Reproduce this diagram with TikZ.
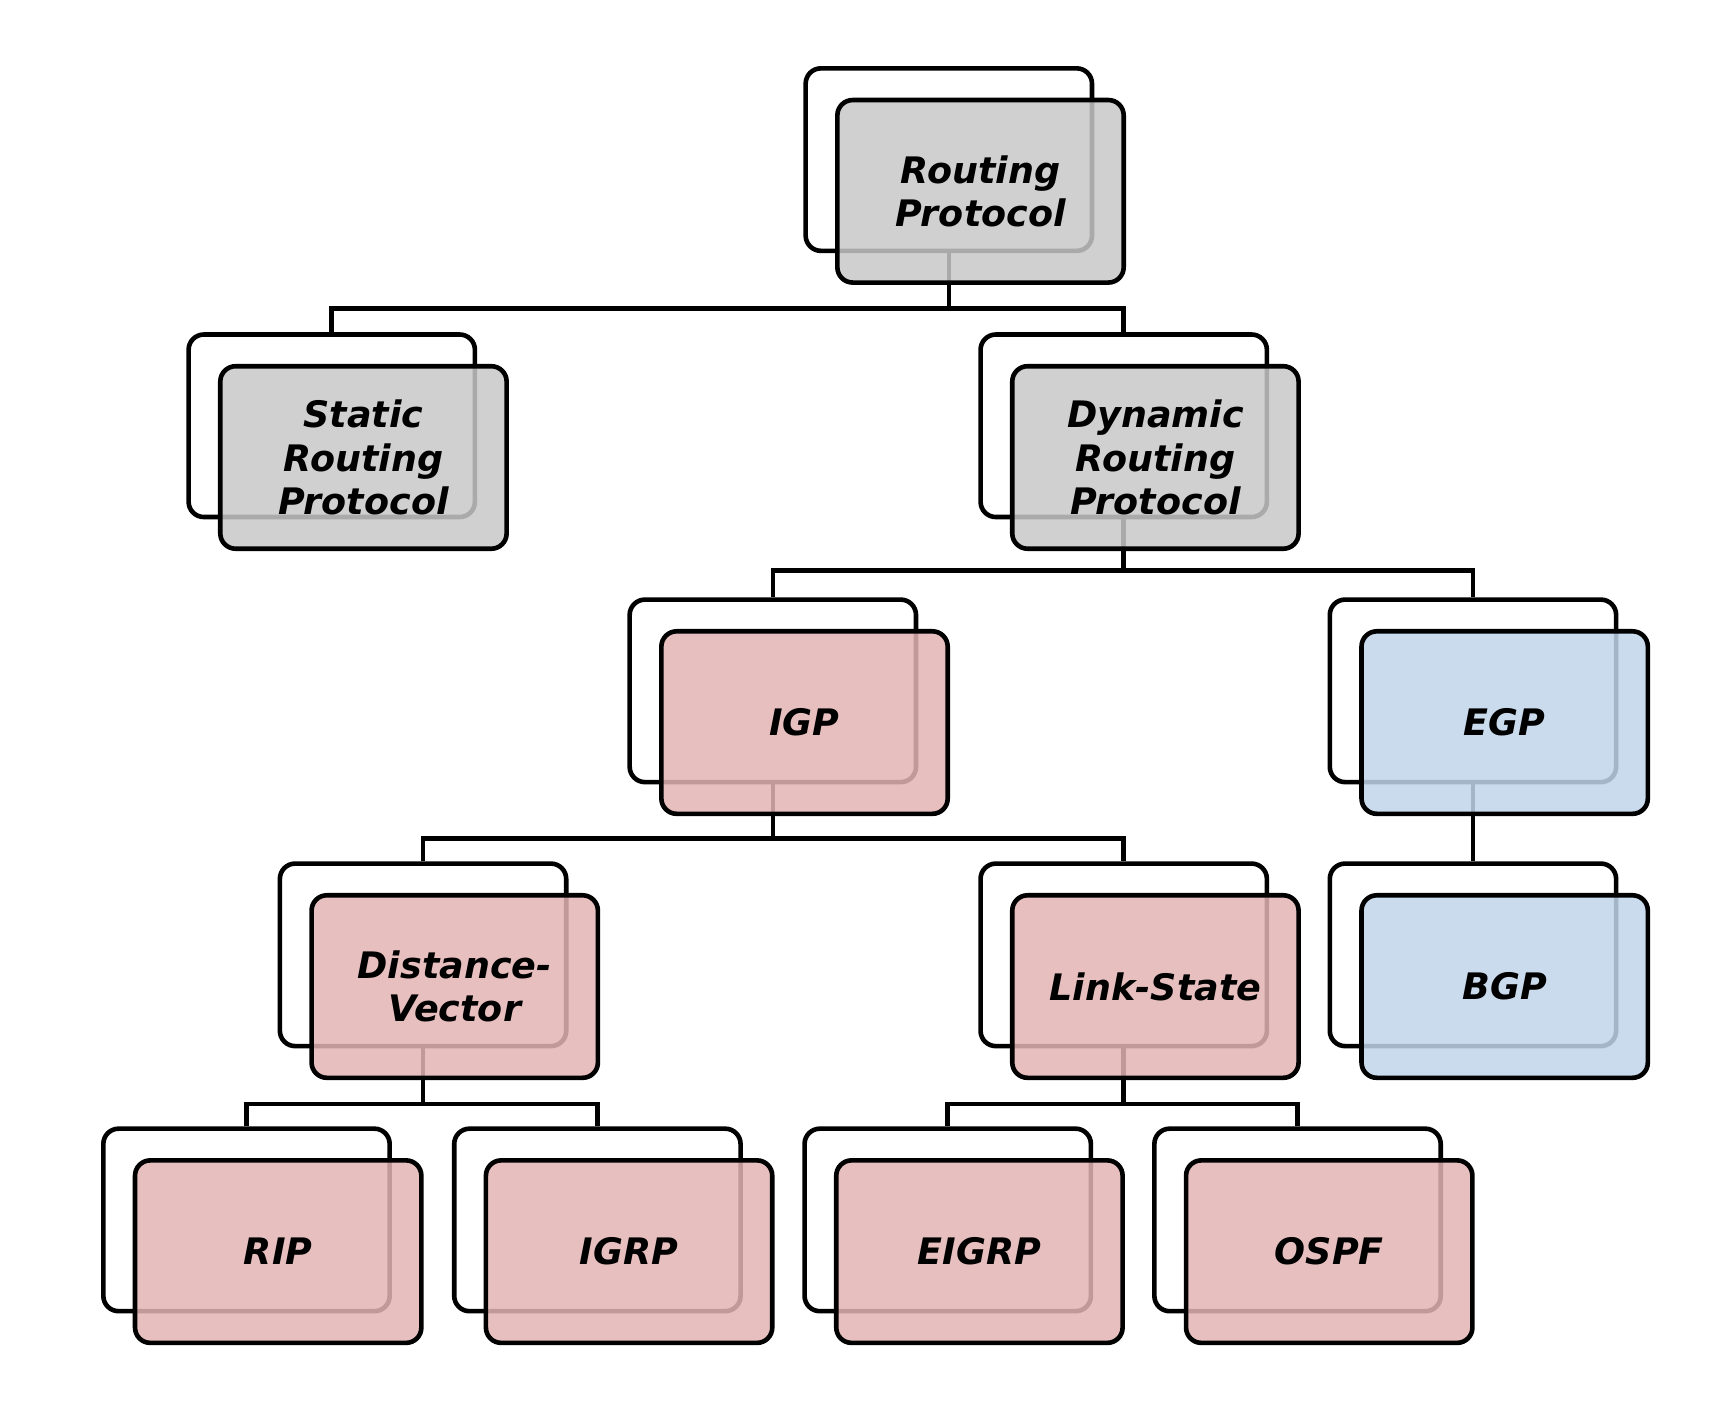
\documentclass[tikz,border=0pt]{standalone}
\usepackage{fontspec}
\setmainfont{DejaVu Sans}
\pgfdeclarelayer{canvas}
\pgfdeclarelayer{bg}
\pgfsetlayers{canvas,bg,main}
\definecolor{gfill}{RGB}{200,200,200}
\definecolor{pfill}{RGB}{228,180,180}
\definecolor{bfill}{RGB}{194,213,236}
\tikzset{
  backbox/.style={draw=black, line width=2.4pt, rounded corners=0.28cm, fill=white,
    minimum width=5.24cm, minimum height=3.34cm, inner sep=0pt},
  frontbox/.style={draw=black, line width=2.4pt, rounded corners=0.28cm,
    fill opacity=0.85, text opacity=1, draw opacity=1,
    minimum width=5.24cm, minimum height=3.34cm, inner sep=0pt, align=center,
    font=\fontsize{19}{22.5}\selectfont\bfseries\itshape},
  gray/.style={frontbox, fill=gfill},
  pink/.style={frontbox, fill=pfill},
  blue/.style={frontbox, fill=bfill},
  conn/.style={draw=black, line width=2.4pt}
}
\newcommand{\protobox}[5]{%
  \node[backbox] (#1b) at (#2,#3) {};
  \node[#4] (#1) at (#2+29,#3+29) {#5};
}
\begin{document}
\begin{tikzpicture}[x=0.02cm,y=-0.02cm]
\useasboundingbox (0,0) rectangle (1568,1305);
\begin{pgfonlayer}{canvas}
\fill[white] (0,0) rectangle (1568,1305);
\end{pgfonlayer}
\protobox{root}{868}{146}{gray}{Routing\\Protocol}
\protobox{static}{303.5}{389.5}{gray}{Static\\Routing\\Protocol}
\protobox{dyn}{1028}{389.5}{gray}{Dynamic\\Routing\\Protocol}
\protobox{igp}{707}{632}{pink}{IGP}
\protobox{egp}{1347.5}{632}{blue}{EGP}
\protobox{dv}{387}{873.5}{pink}{Distance-\\Vector}
\protobox{ls}{1028}{873.5}{pink}{Link-State}
\protobox{bgp}{1347.5}{873.5}{blue}{BGP}
\protobox{rip}{225.5}{1116}{pink}{RIP}
\protobox{igrp}{546.5}{1116}{pink}{IGRP}
\protobox{eigrp}{867}{1116}{pink}{EIGRP}
\protobox{ospf}{1187}{1116}{pink}{OSPF}
\coordinate (bus1) at (0,282);
\coordinate (bus2) at (0,522);
\coordinate (bus3) at (0,767);
\coordinate (bus4) at (0,1010);
\begin{pgfonlayer}{bg}
\draw[conn] (rootb.south) -- (rootb.south |- bus1);
\draw[conn] (staticb.north) |- (bus1 -| dynb.north) -- (dynb.north);
\draw[conn] (dynb.south) -- (dynb.south |- bus2);
\draw[conn] (igpb.north) |- (bus2 -| egpb.north) -- (egpb.north);
\draw[conn] (igpb.south) -- (igpb.south |- bus3);
\draw[conn] (dvb.north) |- (bus3 -| lsb.north) -- (lsb.north);
\draw[conn] (egpb.south) -- (bgpb.north);
\draw[conn] (dvb.south) -- (dvb.south |- bus4);
\draw[conn] (ripb.north) |- (bus4 -| igrpb.north) -- (igrpb.north);
\draw[conn] (lsb.south) -- (lsb.south |- bus4);
\draw[conn] (eigrpb.north) |- (bus4 -| ospfb.north) -- (ospfb.north);
\end{pgfonlayer}
\end{tikzpicture}
\end{document}
